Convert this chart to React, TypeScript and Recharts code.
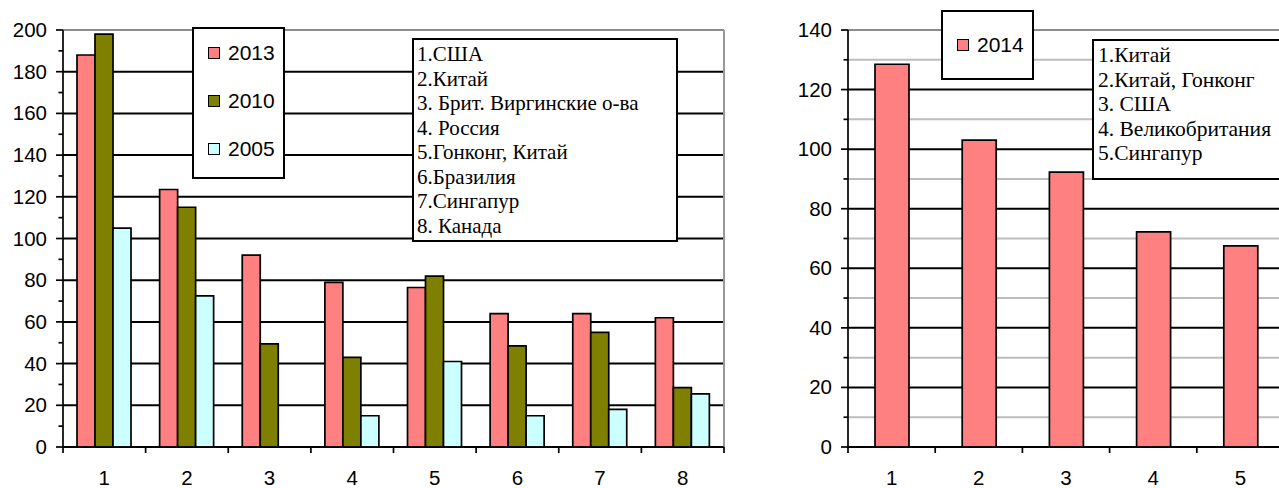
import React from "react";
import { BarChart, Bar, XAxis, YAxis, CartesianGrid } from "recharts";

// left chart: 8 countries, three years
const leftCategories = ["1", "2", "3", "4", "5", "6", "7", "8"];
const values2013 = [188, 123.5, 92, 79, 76.5, 64, 64, 62];
const values2010 = [198, 115, 49.5, 43, 82, 48.5, 55, 28.5];
const values2005 = [105, 72.5, 0, 15, 41, 15, 18, 25.5];
const leftYears = ["2013", "2010", "2005"];
const leftColors = ["#FF8080", "#808000", "#CCFFFF"];
const leftTicks = [0, 10, 20, 30, 40, 50, 60, 70, 80, 90, 100, 110, 120, 130, 140, 150, 160, 170, 180, 190, 200];
const leftCountries = [
  "1.США",
  "2.Китай",
  "3. Брит. Виргинские о-ва",
  "4. Россия",
  "5.Гонконг, Китай",
  "6.Бразилия",
  "7.Сингапур",
  "8. Канада",
];

// right chart: 5 countries, 2014
const rightCategories = ["1", "2", "3", "4", "5"];
const values2014 = [128.5, 103, 92.3, 72.2, 67.5];
const rightYear = "2014";
const rightColor = "#FF8080";
const rightTicks = [0, 10, 20, 30, 40, 50, 60, 70, 80, 90, 100, 110, 120, 130, 140];
const rightCountries = [
  "1.Китай",
  "2.Китай, Гонконг",
  "3. США",
  "4. Великобритания",
  "5.Сингапур",
];

const SANS = "'Liberation Sans', Arial, sans-serif";
const SERIF = "'Liberation Serif', 'Times New Roman', serif";

const leftData = leftCategories.map((c, i) => ({
  cat: c,
  y2013: values2013[i],
  y2010: values2010[i],
  y2005: values2005[i],
}));
const leftKeys = ["y2013", "y2010", "y2005"];

const rightData = rightCategories.map((c, i) => ({ cat: c, y2014: values2014[i] }));

const makeYTick = (majorStep: number) => (props: any) => {
  const { x, y, payload } = props;
  const v = payload.value;
  const major = v % majorStep === 0;
  return (
    <g>
      <line x1={x - (major ? 7 : 4.5)} x2={x} y1={y} y2={y} stroke="#000" strokeWidth={1.7} />
      {major && (
        <text x={x - 16} y={y + 7} textAnchor="end" fontSize={20.5} fontFamily={SANS} fill="#000">
          {v}
        </text>
      )}
    </g>
  );
};

const makeXTick = (count: number) => (props: any) => {
  const { x, y, payload, index } = props;
  const half = payload.offset ?? 0;
  return (
    <g>
      <line x1={x - half} x2={x - half} y1={y} y2={y + 6} stroke="#000" strokeWidth={1.7} />
      {index === count - 1 && (
        <line x1={x + half} x2={x + half} y1={y} y2={y + 6} stroke="#000" strokeWidth={1.7} />
      )}
      <text x={x} y={y + 38} textAnchor="middle" fontSize={20.5} fontFamily={SANS} fill="#000">
        {payload.value}
      </text>
    </g>
  );
};

// grid line renderer: colour chosen by the tick value
const makeGridLine = (values: number[], top: number, minorColor: string | null) => (p: any) => {
  const v = values[p.index];
  let stroke = "#000";
  if (v === top) stroke = "#8C8C8C";
  else if (v % 20 !== 0) {
    if (!minorColor) return <g key={p.key} />;
    stroke = minorColor;
  }
  return <line key={p.key} x1={p.x1} y1={p.y1} x2={p.x2} y2={p.y2} stroke={stroke} strokeWidth={2} />;
};

const Swatch = ({ color }: { color: string }) => (
  <span
    style={{
      display: "inline-block",
      width: 10,
      height: 10,
      background: color,
      border: "1.5px solid #000",
      marginRight: 8,
    }}
  />
);

const boxStyle: React.CSSProperties = {
  position: "absolute",
  background: "#fff",
  border: "2px solid #000",
  boxSizing: "border-box",
};

export default function App() {
  return (
    <div
      style={{
        position: "absolute",
        left: 0,
        top: 0,
        width: 1279,
        height: 488,
        overflow: "hidden",
        background: "#fff",
      }}
    >
      <div style={{ position: "absolute", left: 0, top: 0 }}>
        <BarChart
          width={740}
          height={488}
          data={leftData}
          margin={{ top: 30, right: 16, bottom: 0, left: 0 }}
          barGap={0}
        >
          <CartesianGrid
            vertical={false}
            horizontalValues={leftTicks}
            horizontal={makeGridLine(leftTicks, 200, null)}
          />
          <CartesianGrid
            horizontal={false}
            verticalCoordinatesGenerator={({ offset }: any) => [offset.left + offset.width]}
            stroke="#999"
            strokeWidth={2}
          />
          <XAxis
            dataKey="cat"
            height={41}
            tickLine={false}
            tickSize={0}
            tickMargin={0}
            axisLine={{ stroke: "#000", strokeWidth: 1.7 }}
            tick={makeXTick(leftCategories.length)}
            interval={0}
          />
          <YAxis
            width={63}
            domain={[0, 200]}
            ticks={leftTicks}
            interval={0}
            tickLine={false}
            tickSize={0}
            tickMargin={0}
            axisLine={{ stroke: "#000", strokeWidth: 1.7 }}
            tick={makeYTick(20)}
          />
          {leftKeys.map((k, i) => (
            <Bar
              key={k}
              dataKey={k}
              name={leftYears[i]}
              fill={leftColors[i]}
              stroke="#000"
              strokeWidth={1.7}
              barSize={18}
              isAnimationActive={false}
            />
          ))}
        </BarChart>
      </div>

      <div style={{ position: "absolute", left: 740, top: 0 }}>
        <BarChart
          width={544}
          height={488}
          data={rightData}
          margin={{ top: 30, right: 0, bottom: 0, left: 0 }}
        >
          <CartesianGrid
            vertical={false}
            horizontalValues={rightTicks}
            horizontal={makeGridLine(rightTicks, 140, "#BDBDBD")}
          />
          <XAxis
            dataKey="cat"
            height={41}
            tickLine={false}
            tickSize={0}
            tickMargin={0}
            axisLine={{ stroke: "#000", strokeWidth: 1.7 }}
            tick={makeXTick(rightCategories.length)}
            interval={0}
          />
          <YAxis
            width={108}
            domain={[0, 140]}
            ticks={rightTicks}
            interval={0}
            tickLine={false}
            tickSize={0}
            tickMargin={0}
            axisLine={{ stroke: "#000", strokeWidth: 1.7 }}
            tick={makeYTick(20)}
          />
          <Bar
            dataKey="y2014"
            name={rightYear}
            fill={rightColor}
            stroke="#000"
            strokeWidth={1.7}
            barSize={34}
            isAnimationActive={false}
          />
        </BarChart>
      </div>

      {/* legends */}
      <div style={{ ...boxStyle, left: 192, top: 27, width: 93, height: 152, fontFamily: SANS, fontSize: 21 }}>
        {leftYears.map((y, i) => (
          <div key={y} style={{ height: 48, display: "flex", alignItems: "center", paddingLeft: 14 }}>
            <Swatch color={leftColors[i]} />
            {y}
          </div>
        ))}
      </div>
      <div style={{ ...boxStyle, left: 941, top: 10, width: 93, height: 70, fontFamily: SANS, fontSize: 21 }}>
        <div style={{ height: 66, display: "flex", alignItems: "center", paddingLeft: 14 }}>
          <Swatch color={rightColor} />
          {rightYear}
        </div>
      </div>

      {/* country lists */}
      <div
        style={{
          ...boxStyle,
          left: 412,
          top: 38,
          width: 266,
          height: 204,
          fontFamily: SERIF,
          fontSize: 21,
          lineHeight: "24.5px",
          padding: "2px 3px",
          whiteSpace: "nowrap",
        }}
      >
        {leftCountries.map((c) => (
          <div key={c}>{c}</div>
        ))}
      </div>
      <div
        style={{
          ...boxStyle,
          left: 1092,
          top: 39,
          width: 260,
          height: 141,
          fontFamily: SERIF,
          fontSize: 21.5,
          lineHeight: "24.5px",
          padding: "2px 4px",
          whiteSpace: "nowrap",
        }}
      >
        {rightCountries.map((c) => (
          <div key={c}>{c}</div>
        ))}
      </div>
    </div>
  );
}
